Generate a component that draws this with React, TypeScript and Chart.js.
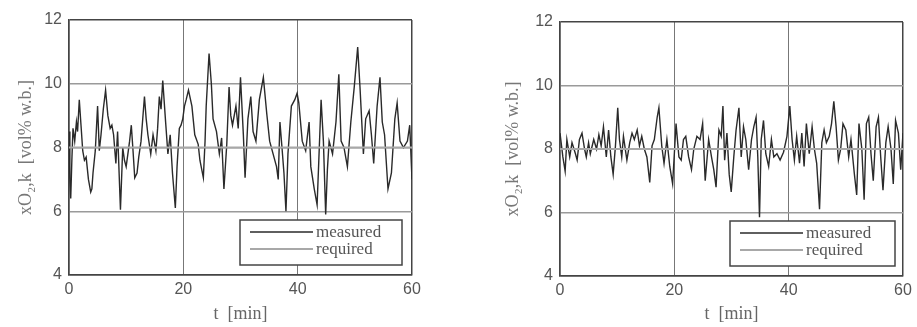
import React, { useEffect, useRef } from "react";
import { Chart, registerables } from "chart.js";

Chart.register(...registerables);

// ---- data ----
const leftTime = [
  0.0, 0.15, 0.3, 0.5, 0.7, 1.0, 1.3, 1.5, 1.8, 2.1, 2.4, 2.7, 3.0, 3.4, 3.8, 4.0, 4.2, 4.6, 5.0, 5.3,
  5.6, 6.0, 6.4, 6.8, 7.2, 7.5, 7.8, 8.2, 8.5, 9.0, 9.4, 9.7, 10.0, 10.3, 10.6, 10.9, 11.2, 11.5, 11.9, 12.2,
  12.6, 12.9, 13.2, 13.5, 13.8, 14.3, 14.7, 15.2, 15.5, 15.8, 16.1, 16.4, 16.9, 17.3, 17.7, 18.1, 18.6, 18.9, 19.3, 19.6,
  19.9, 20.2, 20.5, 20.9, 21.5, 22.0, 22.6, 22.9, 23.5, 23.8, 24.0, 24.5, 24.9, 25.2, 25.8, 26.3, 26.7, 27.1, 27.6, 28.0,
  28.3, 28.6, 29.2, 29.6, 30.0, 30.5, 30.8, 31.3, 31.8, 32.2, 32.7, 33.3, 34.0, 34.6, 35.1, 35.7, 36.3, 36.6, 36.9, 37.3,
  37.6, 37.95, 38.3, 38.9, 39.5, 39.9, 40.2, 40.8, 41.4, 42.0, 42.3, 42.9, 43.4, 43.7, 44.1, 44.5, 44.9, 45.2, 45.5, 46.1,
  46.7, 47.2, 47.6, 48.1, 48.7, 49.3, 49.9, 50.5, 50.9, 51.5, 51.9, 52.5, 52.9, 53.3, 53.9, 54.4, 54.8, 55.2, 55.8, 56.4,
  57.0, 57.4, 57.9, 58.5, 59.2, 59.6, 60.0,
];
const leftMeasured = [
  8.5, 7.0, 6.4, 7.6, 8.6, 8.2, 8.8, 8.5, 9.5, 8.7, 7.9, 7.6, 7.7, 7.0, 6.6, 6.7, 7.2, 7.9, 9.3, 7.9,
  8.4, 9.2, 9.8, 9.0, 8.6, 8.7, 8.4, 7.5, 8.5, 6.05, 8.0, 7.6, 7.4, 7.8, 8.2, 8.7, 7.9, 7.05, 7.2, 7.7,
  8.2, 8.9, 9.6, 8.9, 8.4, 7.8, 8.4, 7.9, 8.6, 9.6, 9.2, 10.1, 8.8, 7.8, 8.4, 7.2, 6.1, 7.4, 8.6, 8.7,
  8.9, 9.3, 9.5, 9.8, 9.3, 8.4, 8.1, 7.6, 7.05, 8.2, 9.3, 10.95, 10.0, 8.9, 8.5, 7.8, 8.3, 6.7, 8.1, 9.9,
  9.0, 8.7, 9.3, 8.6, 10.2, 8.4, 7.05, 8.9, 9.6, 8.5, 8.2, 9.5, 10.2, 9.05, 8.2, 7.8, 7.4, 7.0, 8.8, 7.9,
  7.2, 6.0, 7.8, 9.3, 9.5, 9.7, 9.4, 8.2, 7.9, 8.8, 7.4, 6.7, 6.2, 7.6, 9.5, 8.2, 5.9, 7.3, 8.2, 7.8,
  8.8, 10.3, 8.2, 8.0, 7.4, 8.8, 9.9, 11.15, 9.9, 7.8, 8.9, 9.15, 8.4, 7.5, 9.3, 10.2, 8.8, 8.4, 6.7, 7.2,
  8.9, 9.4, 8.2, 8.0, 8.2, 8.7, 7.0,
];

const rightTime = [
  0.0, 0.5, 0.9, 1.2, 1.7, 2.1, 2.7, 3.0, 3.4, 3.85, 4.3, 4.6, 5.0, 5.3, 5.9, 6.4, 6.8, 7.2, 7.6, 8.1,
  8.5, 8.9, 9.3, 9.7, 10.1, 10.4, 10.8, 11.1, 11.7, 12.2, 12.6, 13.0, 13.5, 13.9, 14.3, 14.75, 15.2, 15.7, 16.1, 16.5,
  17.0, 17.3, 17.8, 18.2, 18.7, 19.2, 19.7, 20.3, 20.8, 21.2, 21.6, 22.0, 22.5, 23.0, 23.4, 23.95, 24.5, 24.95, 25.4, 26.0,
  26.5, 26.9, 27.3, 27.8, 28.2, 28.5, 28.8, 29.2, 29.6, 29.95, 30.4, 30.8, 31.3, 31.7, 32.1, 32.5, 33.0, 33.5, 33.9, 34.3,
  34.6, 34.9, 35.2, 35.6, 36.0, 36.5, 36.98, 37.4, 37.95, 38.5, 39.1, 39.7, 40.2, 40.6, 41.0, 41.4, 41.9, 42.3, 42.7, 43.1,
  43.6, 44.1, 44.5, 44.9, 45.4, 45.8, 46.2, 46.6, 47.1, 47.5, 47.9, 48.3, 48.7, 49.1, 49.5, 50.0, 50.5, 50.9, 51.5, 51.9,
  52.3, 52.8, 53.2, 53.6, 54.0, 54.4, 54.8, 55.3, 55.7, 56.1, 56.5, 57.0, 57.4, 57.9, 58.3, 58.7, 59.2, 59.6, 60.0,
];
const rightMeasured = [
  8.5, 7.75, 7.3, 8.3, 7.75, 8.2, 7.85, 7.65, 8.3, 8.5, 8.0, 7.75, 8.2, 7.85, 8.3, 8.0, 8.45, 8.1, 8.7, 7.75,
  8.6, 7.75, 7.2, 8.1, 9.3, 8.3, 7.75, 8.4, 7.65, 8.2, 8.5, 8.3, 8.6, 8.1, 8.4, 8.0, 7.75, 6.95, 8.1, 8.3,
  9.0, 9.3, 8.1, 7.55, 8.3, 7.45, 6.9, 8.8, 7.75, 7.65, 8.3, 8.4, 7.75, 7.35, 8.0, 8.4, 8.3, 8.8, 7.0, 8.3,
  7.75, 7.35, 6.8, 8.6, 8.4, 9.35, 7.65, 8.5, 7.2, 6.65, 7.75, 8.6, 9.3, 7.75, 8.7, 8.3, 7.35, 8.3, 8.7, 9.0,
  7.75, 5.85, 8.3, 8.9, 7.85, 7.45, 8.3, 7.75, 7.85, 7.65, 7.9, 8.4, 9.35, 8.3, 7.65, 8.4, 7.55, 8.5, 7.45, 8.8,
  7.85, 8.7, 8.0, 7.55, 6.1, 8.2, 8.6, 8.2, 8.4, 8.8, 9.5, 8.7, 7.65, 8.0, 8.8, 8.6, 7.75, 8.3, 7.2, 6.55,
  8.8, 8.0, 6.4, 8.8, 9.0, 7.85, 7.0, 8.7, 9.0, 7.75, 6.7, 8.2, 8.7, 8.0, 6.9, 8.9, 8.5, 7.35, 8.5,
];

const requiredTime = [0, 60];
const requiredValue = [8, 8];

const xTicks = [0, 20, 40, 60];
const yTicks = [4, 6, 8, 10, 12];
const seriesLabels = ["measured", "required"];
const xTitle = "t  [min]";
const yTitle = "xO₂,k  [vol% w.b.]";

// ---- styling ----
const TICK_FONT = { family: "Liberation Sans, Arial, sans-serif", size: 16 };
const TITLE_FONT = { family: "Liberation Serif, serif", size: 18 };

const boxLegend = {
  id: "boxLegend",
  afterDraw(chart: any, _args: any, opts: any) {
    const { ctx, chartArea } = chart;
    const w = opts.width;
    const h = opts.height;
    const x = chartArea.right - opts.right - w;
    const y = chartArea.bottom - opts.bottom - h;
    ctx.save();
    ctx.fillStyle = "#ffffff";
    ctx.fillRect(x, y, w, h);
    ctx.strokeStyle = "#444";
    ctx.lineWidth = 1.5;
    ctx.strokeRect(x, y, w, h);
    chart.data.datasets.forEach((ds: any, i: number) => {
      const ly = y + 12 + i * 17;
      ctx.strokeStyle = ds.borderColor;
      ctx.lineWidth = ds.borderWidth;
      ctx.beginPath();
      ctx.moveTo(x + 10, ly);
      ctx.lineTo(x + 73, ly);
      ctx.stroke();
      ctx.fillStyle = "#555";
      ctx.font = '17px "Liberation Serif", serif';
      ctx.textBaseline = "middle";
      ctx.textAlign = "left";
      ctx.fillText(ds.label, x + 76, ly + 1);
    });
    ctx.restore();
  },
};

type Geo = {
  width: number;
  padLeft: number;
  padRight: number;
  padTop: number;
  yWidth: number;
  xHeight: number;
  yTitlePad: number;
  legendRight: number;
  legendWidth: number;
};

function makeConfig(times: number[], values: number[], geo: Geo): any {
  return {
    type: "line",
    data: {
      datasets: [
        {
          label: seriesLabels[0],
          data: times.map((t, i) => ({ x: t, y: values[i] })),
          borderColor: "#2a2a2a",
          borderWidth: 1.4,
          pointRadius: 0,
          tension: 0,
          order: 1,
        },
        {
          label: seriesLabels[1],
          data: requiredTime.map((t, i) => ({ x: t, y: requiredValue[i] })),
          borderColor: "#a8a8a8",
          borderWidth: 2,
          pointRadius: 0,
          tension: 0,
          order: 0,
        },
      ],
    },
    options: {
      animation: false,
      responsive: false,
      maintainAspectRatio: false,
      layout: { padding: { left: geo.padLeft, right: geo.padRight, top: geo.padTop, bottom: 0 } },
      plugins: {
        legend: { display: false },
        tooltip: { enabled: false },
        boxLegend: { width: geo.legendWidth, height: 45, right: geo.legendRight, bottom: 10 },
      },
      scales: {
        x: {
          type: "linear",
          min: 0,
          max: 60,
          afterBuildTicks: (s: any) => {
            s.ticks = xTicks.map((v) => ({ value: v }));
          },
          afterFit: (s: any) => {
            s.height = geo.xHeight;
          },
          ticks: { font: TICK_FONT, color: "#555", padding: 5, maxRotation: 0 },
          grid: {
            drawTicks: false,
            color: (c: any) => (c.tick && (c.tick.value === 0 || c.tick.value === 60) ? "#444" : "#777"),
            lineWidth: (c: any) => (c.tick && (c.tick.value === 0 || c.tick.value === 60) ? 1.5 : 1),
          },
          border: { display: true, color: "#444", width: 1.5 },
          title: {
            display: true,
            text: xTitle,
            font: TITLE_FONT,
            color: "#666",
            padding: { top: 0, bottom: 2 },
          },
        },
        y: {
          type: "linear",
          min: 4,
          max: 12,
          afterBuildTicks: (s: any) => {
            s.ticks = yTicks.map((v) => ({ value: v }));
          },
          afterFit: (s: any) => {
            s.width = geo.yWidth;
          },
          ticks: { font: TICK_FONT, color: "#555", padding: 7 },
          grid: {
            drawTicks: false,
            color: (c: any) => (c.tick && (c.tick.value === 4 || c.tick.value === 12) ? "#444" : "#9a9a9a"),
            lineWidth: 1.5,
          },
          border: { display: true, color: "#444", width: 1.5 },
          title: {
            display: true,
            text: yTitle,
            font: TITLE_FONT,
            color: "#777",
            padding: { top: geo.yTitlePad, bottom: 0 },
          },
        },
      },
    },
    plugins: [boxLegend],
  };
}

const leftGeo: Geo = {
  width: 458,
  padLeft: 0,
  padRight: 46,
  padTop: 20,
  yWidth: 69,
  xHeight: 52,
  yTitlePad: 15,
  legendRight: 10,
  legendWidth: 162,
};
const rightGeo: Geo = {
  width: 459,
  padLeft: 33,
  padRight: 14,
  padTop: 22,
  yWidth: 69,
  xHeight: 51,
  yTitlePad: 11,
  legendRight: 8,
  legendWidth: 165,
};

function Panel({ times, values, geo, left }: { times: number[]; values: number[]; geo: Geo; left: number }) {
  const ref = useRef<HTMLCanvasElement>(null);
  useEffect(() => {
    if (!ref.current) return;
    const chart = new Chart(ref.current, makeConfig(times, values, geo));
    return () => chart.destroy();
  }, []);
  return (
    <canvas
      ref={ref}
      width={geo.width}
      height={327}
      style={{ position: "absolute", left, top: 0, width: geo.width, height: 327 }}
    />
  );
}

export default function App() {
  return (
    <div style={{ position: "absolute", left: 0, top: 0, width: 917, height: 327, background: "#fff" }}>
      <Panel times={leftTime} values={leftMeasured} geo={leftGeo} left={0} />
      <Panel times={rightTime} values={rightMeasured} geo={rightGeo} left={458} />
    </div>
  );
}
